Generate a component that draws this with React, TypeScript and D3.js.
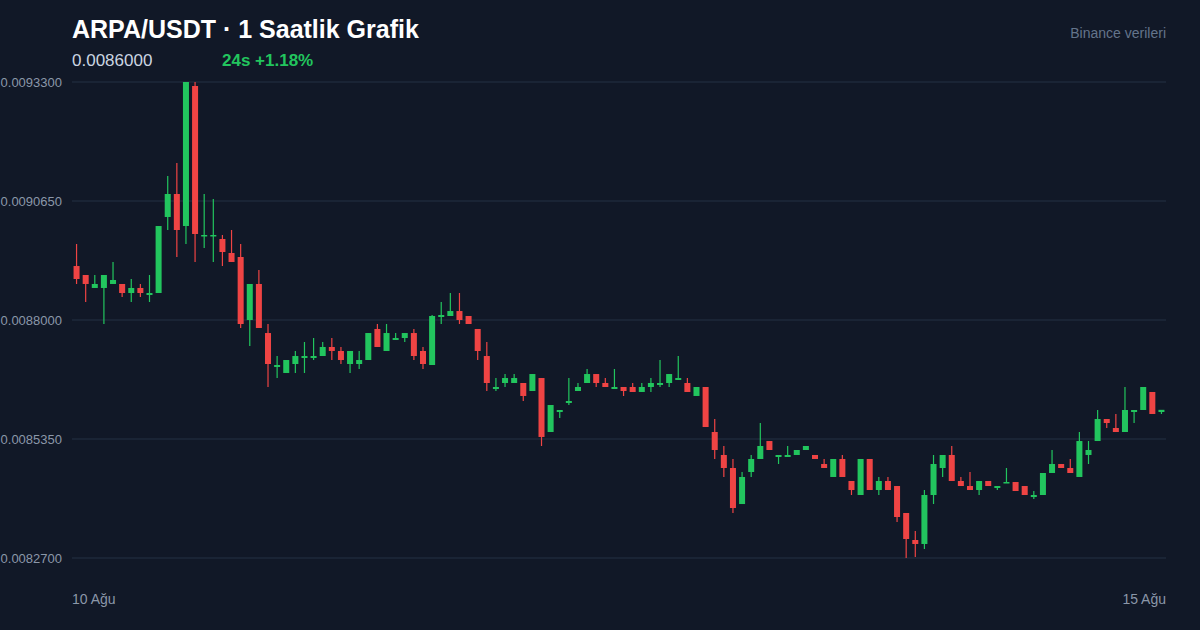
import React from "react";
import * as d3 from "d3";

// Hourly candles, 10 Ağu → 15 Ağu (120 bars)
const openValues = [
  0.0089202, 0.0089002, 0.0088713, 0.0088713, 0.0088802, 0.0088802, 0.0088601, 0.0088713, 0.0088557, 0.0088601,
  0.0090294, 0.0090806, 0.0090093, 0.0093211, 0.0089871, 0.0089871, 0.0089804, 0.0089492, 0.0089403, 0.0088000,
  0.0088802, 0.0087710, 0.0086953, 0.0086820, 0.0087020, 0.0087154, 0.0087154, 0.0087198, 0.0087399, 0.0087310,
  0.0087020, 0.0087020, 0.0087109, 0.0087800, 0.0087310, 0.0087555, 0.0087599, 0.0087710, 0.0087310, 0.0086998,
  0.0088067, 0.0088089, 0.0088200, 0.0088089, 0.0087800, 0.0087198, 0.0086463, 0.0086597, 0.0086597, 0.0086597,
  0.0086419, 0.0086708, 0.0085506, 0.0085951, 0.0086152, 0.0086419, 0.0086597, 0.0086797, 0.0086597, 0.0086463,
  0.0086508, 0.0086508, 0.0086397, 0.0086508, 0.0086553, 0.0086597, 0.0086664, 0.0086597, 0.0086308, 0.0086508,
  0.0085506, 0.0084994, 0.0084704, 0.0083902, 0.0084615, 0.0084905, 0.0085305, 0.0084949, 0.0084949, 0.0084994,
  0.0085105, 0.0084994, 0.0084793, 0.0084504, 0.0084905, 0.0084415, 0.0084103, 0.0084905, 0.0084214, 0.0084415,
  0.0084303, 0.0083702, 0.0083101, 0.0083012, 0.0084103, 0.0084704, 0.0084994, 0.0084415, 0.0084303, 0.0084214,
  0.0084415, 0.0084259, 0.0084370, 0.0084392, 0.0084303, 0.0084058, 0.0084103, 0.0084593, 0.0084793, 0.0084704,
  0.0084504, 0.0084994, 0.0085305, 0.0085795, 0.0085595, 0.0085506, 0.0085951, 0.0085996, 0.0086397, 0.0085951,
];
const highValues = [
  0.0089692, 0.0089002, 0.0089002, 0.0089002, 0.0089292, 0.0088802, 0.0088913, 0.0088802, 0.0089002, 0.0090093,
  0.0091207, 0.0091496, 0.0093300, 0.0093300, 0.0090806, 0.0090695, 0.0089893, 0.0090004, 0.0089692, 0.0088802,
  0.0089113, 0.0087911, 0.0087198, 0.0087109, 0.0087310, 0.0087510, 0.0087599, 0.0087510, 0.0087599, 0.0087399,
  0.0087310, 0.0087310, 0.0087710, 0.0087911, 0.0087911, 0.0087710, 0.0087710, 0.0087800, 0.0087399, 0.0088111,
  0.0088401, 0.0088601, 0.0088601, 0.0088089, 0.0087800, 0.0087510, 0.0086708, 0.0086797, 0.0086797, 0.0086597,
  0.0086797, 0.0086708, 0.0086107, 0.0085996, 0.0086708, 0.0086597, 0.0086909, 0.0086797, 0.0086708, 0.0086909,
  0.0086508, 0.0086597, 0.0086597, 0.0086708, 0.0087109, 0.0086797, 0.0087198, 0.0086708, 0.0086508, 0.0086508,
  0.0085795, 0.0085194, 0.0084905, 0.0084615, 0.0084994, 0.0085706, 0.0085305, 0.0084994, 0.0085194, 0.0085105,
  0.0085194, 0.0084994, 0.0084905, 0.0084905, 0.0084994, 0.0084415, 0.0084905, 0.0084905, 0.0084504, 0.0084504,
  0.0084303, 0.0083702, 0.0083301, 0.0084214, 0.0084994, 0.0084994, 0.0085194, 0.0084504, 0.0084615, 0.0084415,
  0.0084415, 0.0084303, 0.0084704, 0.0084392, 0.0084303, 0.0084192, 0.0084593, 0.0085105, 0.0084793, 0.0084905,
  0.0085506, 0.0085305, 0.0085996, 0.0085795, 0.0085907, 0.0086508, 0.0085996, 0.0086508, 0.0086397, 0.0085996,
];
const lowValues = [
  0.0088802, 0.0088401, 0.0088713, 0.0087911, 0.0088802, 0.0088512, 0.0088401, 0.0088512, 0.0088401, 0.0088601,
  0.0090004, 0.0089403, 0.0089692, 0.0089292, 0.0089603, 0.0089292, 0.0089202, 0.0089292, 0.0087822, 0.0087421,
  0.0087822, 0.0086508, 0.0086708, 0.0086820, 0.0086820, 0.0086820, 0.0087109, 0.0087198, 0.0087109, 0.0087020,
  0.0086820, 0.0086909, 0.0087109, 0.0087399, 0.0087310, 0.0087555, 0.0087510, 0.0087109, 0.0086909, 0.0086998,
  0.0087911, 0.0088089, 0.0087911, 0.0087911, 0.0087109, 0.0086419, 0.0086419, 0.0086508, 0.0086597, 0.0086196,
  0.0086419, 0.0085194, 0.0085506, 0.0085818, 0.0086107, 0.0086419, 0.0086597, 0.0086508, 0.0086508, 0.0086463,
  0.0086308, 0.0086397, 0.0086397, 0.0086397, 0.0086508, 0.0086508, 0.0086664, 0.0086397, 0.0086308, 0.0085617,
  0.0084905, 0.0084504, 0.0083702, 0.0083902, 0.0084504, 0.0084905, 0.0085105, 0.0084793, 0.0084949, 0.0084994,
  0.0085105, 0.0084905, 0.0084704, 0.0084504, 0.0084504, 0.0084103, 0.0084103, 0.0084214, 0.0084103, 0.0084214,
  0.0083502, 0.0082700, 0.0082722, 0.0082900, 0.0083902, 0.0084504, 0.0084415, 0.0084303, 0.0084214, 0.0084103,
  0.0084303, 0.0084214, 0.0084370, 0.0084192, 0.0084103, 0.0084014, 0.0084103, 0.0084593, 0.0084704, 0.0084593,
  0.0084504, 0.0084793, 0.0085305, 0.0085595, 0.0085506, 0.0085506, 0.0085706, 0.0085996, 0.0085907, 0.0085907,
];
const closeValues = [
  0.0088913, 0.0088802, 0.0088802, 0.0089002, 0.0088891, 0.0088601, 0.0088713, 0.0088601, 0.0088601, 0.0090093,
  0.0090806, 0.0090004, 0.0093300, 0.0089915, 0.0089893, 0.0089893, 0.0089514, 0.0089292, 0.0087911, 0.0088802,
  0.0087822, 0.0087020, 0.0086998, 0.0087109, 0.0087198, 0.0087198, 0.0087198, 0.0087399, 0.0087310, 0.0087109,
  0.0087310, 0.0087109, 0.0087710, 0.0087399, 0.0087710, 0.0087599, 0.0087710, 0.0087198, 0.0087020, 0.0088089,
  0.0088111, 0.0088200, 0.0088000, 0.0087911, 0.0087310, 0.0086597, 0.0086508, 0.0086708, 0.0086708, 0.0086308,
  0.0086797, 0.0085395, 0.0086107, 0.0085996, 0.0086196, 0.0086508, 0.0086797, 0.0086597, 0.0086508, 0.0086508,
  0.0086419, 0.0086397, 0.0086508, 0.0086597, 0.0086597, 0.0086797, 0.0086708, 0.0086397, 0.0086508, 0.0085617,
  0.0085105, 0.0084704, 0.0083813, 0.0084504, 0.0084905, 0.0085194, 0.0085105, 0.0084994, 0.0084994, 0.0085105,
  0.0085194, 0.0084905, 0.0084704, 0.0084905, 0.0084504, 0.0084214, 0.0084905, 0.0084214, 0.0084415, 0.0084214,
  0.0083613, 0.0083123, 0.0083012, 0.0084103, 0.0084793, 0.0084994, 0.0084415, 0.0084303, 0.0084214, 0.0084415,
  0.0084303, 0.0084303, 0.0084392, 0.0084192, 0.0084103, 0.0084103, 0.0084593, 0.0084793, 0.0084704, 0.0084593,
  0.0085305, 0.0085105, 0.0085795, 0.0085706, 0.0085506, 0.0085996, 0.0085996, 0.0086508, 0.0085907, 0.0086000,
];
const xTickLabels = ["10 Ağu", "15 Ağu"];
const titleText = "ARPA/USDT · 1 Saatlik Grafik";
const lastPriceText = "0.0086000";
const changeText = "24s +1.18%";
const sourceText = "Binance verileri";

const W = 1200;
const H = 630;
const M = { left: 72, right: 1166, top: 82, bottom: 558 };
const FONT = "'Liberation Sans', Arial, Helvetica, sans-serif";
const UP = "#22c55e";
const DOWN = "#ef4444";

export default function App() {
  const n = openValues.length;
  const idx = d3.range(n);
  const minLow = d3.min(lowValues) as number;
  const maxHigh = d3.max(highValues) as number;
  const x = d3.scaleBand<number>().domain(idx).range([M.left, M.right]).paddingInner(0.34).paddingOuter(0.17);
  const y = d3.scaleLinear().domain([minLow, maxHigh]).range([M.bottom, M.top]);
  const ticks = d3.range(5).map((i) => minLow + ((maxHigh - minLow) * i) / 4);
  const bw = x.bandwidth();

  return (
    <div style={{ position: "fixed", left: 0, top: 0, width: W, height: H, background: "#111827" }}>
      <svg width={W} height={H} style={{ display: "block", fontFamily: FONT }}>
        <rect x={0} y={0} width={W} height={H} fill="#111827" />
        {ticks.map((t, i) => (
          <g key={i}>
            <line x1={M.left} x2={M.right} y1={y(t)} y2={y(t)} stroke="#1e293b" strokeWidth={1.6} />
            <text x={62} y={y(t)} dy="0.35em" textAnchor="end" fontSize={13} fill="#8b97a9">
              {t.toFixed(7)}
            </text>
          </g>
        ))}
        {idx.map((i) => {
          const o = openValues[i];
          const c = closeValues[i];
          const up = c >= o;
          const col = up ? UP : DOWN;
          const cx = (x(i) as number) + bw / 2;
          const top = y(Math.max(o, c));
          const bot = y(Math.min(o, c));
          return (
            <g key={i}>
              <line x1={cx} x2={cx} y1={y(highValues[i])} y2={y(lowValues[i])} stroke={col} strokeWidth={1.2} />
              <rect x={x(i) as number} y={top} width={bw} height={Math.max(1.5, bot - top)} fill={col} />
            </g>
          );
        })}
        <text x={72} y={38} fontSize={25} fontWeight={700} fill="#ffffff">
          {titleText}
        </text>
        <text x={72} y={66} fontSize={17} fill="#cbd5e1">
          {lastPriceText}
        </text>
        <text x={222} y={66} fontSize={17} fontWeight={700} fill={UP}>
          {changeText}
        </text>
        <text x={1166} y={38} fontSize={14} textAnchor="end" fill="#64748b">
          {sourceText}
        </text>
        <text x={72} y={604} fontSize={14} fill="#8b97a9">
          {xTickLabels[0]}
        </text>
        <text x={1166} y={604} fontSize={14} textAnchor="end" fill="#8b97a9">
          {xTickLabels[1]}
        </text>
      </svg>
    </div>
  );
}
